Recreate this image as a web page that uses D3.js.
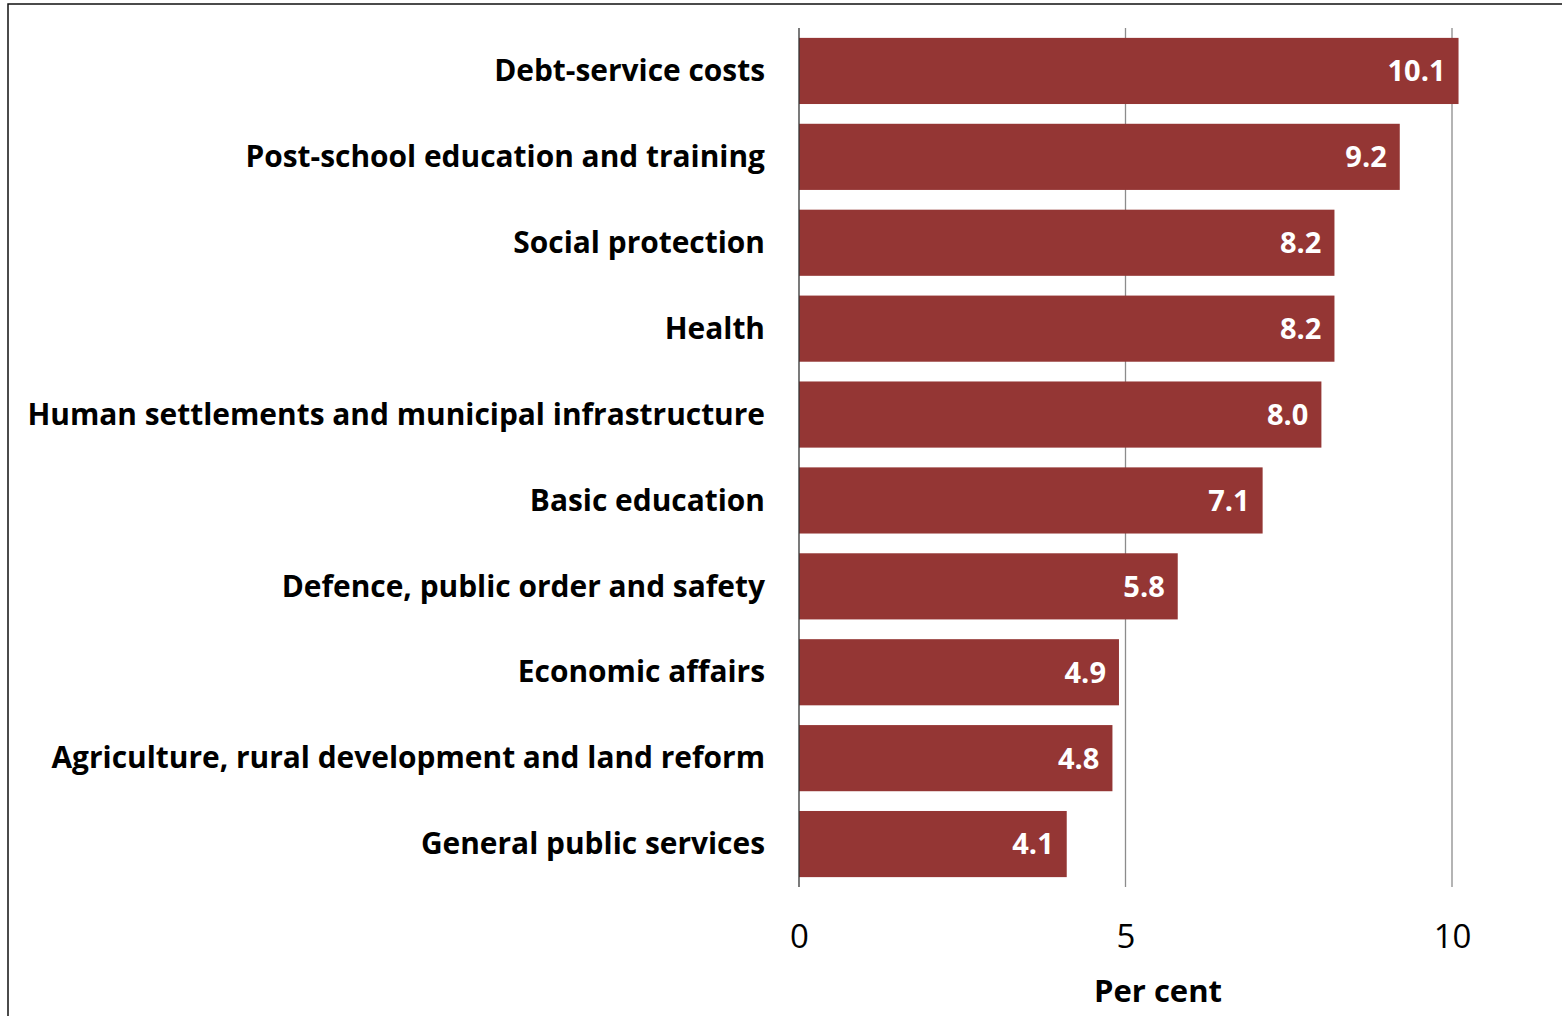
<!DOCTYPE html>
<html>
<head>
<meta charset="utf-8">
<script src="https://cdn.jsdelivr.net/npm/d3@7"></script>
<style>
  html, body { margin: 0; padding: 0; background: #fff; }
  svg { display: block; }
</style>
</head>
<body>
<svg id="chart" width="1562" height="1016"></svg>
<script>
// Spending categories and their values (per cent)
const categories = [
  "Debt-service costs",
  "Post-school education and training",
  "Social protection",
  "Health",
  "Human settlements and municipal infrastructure",
  "Basic education",
  "Defence, public order and safety",
  "Economic affairs",
  "Agriculture, rural development and land reform",
  "General public services"
];
const values = [10.1, 9.2, 8.2, 8.2, 8.0, 7.1, 5.8, 4.9, 4.8, 4.1];
const tickValues = [0, 5, 10];
const axisTitle = "Per cent";

const data = categories.map((c, i) => ({ category: c, value: values[i] }));

const svg = d3.select("#chart");
const W = 1562, H = 1016;
const barColor = "#943634";
const fontFamily = "'Open Sans', Lato, sans-serif";

// outer frame (top and left edges fall inside the canvas)
svg.append("rect")
  .attr("x", 8).attr("y", 4)
  .attr("width", W).attr("height", H)
  .attr("fill", "none")
  .attr("stroke", "#111")
  .attr("stroke-width", 1.5);

const x = d3.scaleLinear().domain([0, 10]).range([799, 1452]);
const y = d3.scaleBand()
  .domain(categories)
  .range([28, 887])
  .paddingInner(0.23)
  .paddingOuter(0.115);

// vertical gridlines
svg.append("g")
  .selectAll("line")
  .data(tickValues.filter(t => t !== 0))
  .join("line")
  .attr("x1", d => x(d)).attr("x2", d => x(d))
  .attr("y1", 28).attr("y2", 887)
  .attr("stroke", "#8c8c8c")
  .attr("stroke-width", 1.3);

// bars
svg.append("g")
  .selectAll("rect")
  .data(data)
  .join("rect")
  .attr("x", x(0))
  .attr("y", d => y(d.category))
  .attr("width", d => x(d.value) - x(0))
  .attr("height", y.bandwidth())
  .attr("fill", barColor);

// category axis line
svg.append("line")
  .attr("x1", x(0)).attr("x2", x(0))
  .attr("y1", 28).attr("y2", 887)
  .attr("stroke", "#333")
  .attr("stroke-width", 1.3);

// category labels
svg.append("g")
  .selectAll("text")
  .data(data)
  .join("text")
  .attr("x", 765)
  .attr("y", d => y(d.category) + y.bandwidth() / 2)
  .attr("dy", "0.34em")
  .attr("text-anchor", "end")
  .attr("font-family", fontFamily)
  .attr("font-weight", "bold")
  .attr("font-size", 29.9)
  .attr("fill", "#000")
  .text(d => d.category);

// value labels inside bar ends
svg.append("g")
  .selectAll("text")
  .data(data)
  .join("text")
  .attr("x", d => x(d.value) - 13)
  .attr("y", d => y(d.category) + y.bandwidth() / 2)
  .attr("dy", "0.36em")
  .attr("text-anchor", "end")
  .attr("font-family", fontFamily)
  .attr("font-weight", "bold")
  .attr("font-size", 29)
  .attr("fill", "#fff")
  .text(d => d.value.toFixed(1));

// value axis
const xAxis = d3.axisBottom(x).tickValues(tickValues).tickSize(0).tickPadding(0);
const gx = svg.append("g")
  .attr("transform", "translate(0,887)")
  .call(xAxis);
gx.select(".domain").remove();
gx.selectAll("text")
  .attr("y", 49)
  .attr("dy", "0.36em")
  .attr("font-family", fontFamily)
  .attr("font-size", 33)
  .attr("fill", "#000");

// axis title
svg.append("text")
  .attr("x", 1158)
  .attr("y", 991)
  .attr("dy", "0.36em")
  .attr("text-anchor", "middle")
  .attr("font-family", fontFamily)
  .attr("font-weight", "bold")
  .attr("font-size", 31)
  .attr("fill", "#000")
  .text(axisTitle);
</script>
</body>
</html>
